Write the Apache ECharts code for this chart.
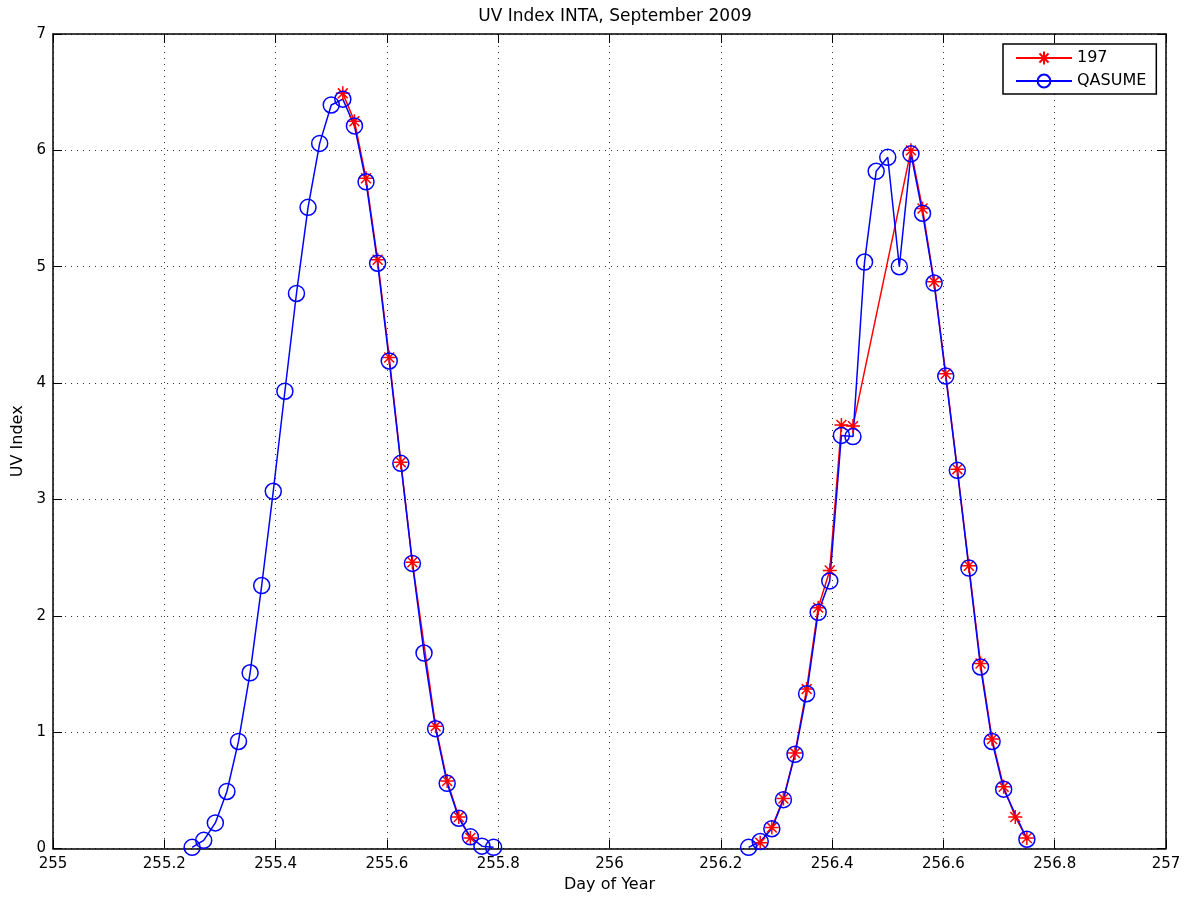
<!DOCTYPE html>
<html>
<head>
<meta charset="utf-8">
<script src="https://cdn.jsdelivr.net/npm/echarts@6/dist/echarts.min.js"></script>
<style>
html,body{margin:0;padding:0;background:#fff;}
#chart{width:1191px;height:902px;}
</style>
</head>
<body>
<div id="chart"></div>
<script>
// ---- Data (Day of Year, UV Index) ----
const xTicks = [255, 255.2, 255.4, 255.6, 255.8, 256, 256.2, 256.4, 256.6, 256.8, 257];
const yTicks = [0, 1, 2, 3, 4, 5, 6, 7];

// Instrument 197 (red, asterisk)
const inst197Day1X = [255.5208, 255.5417, 255.5625, 255.5833, 255.6042, 255.6250, 255.6458, 255.6875, 255.7083, 255.7292, 255.7500];
const inst197Day1Y = [6.49, 6.25, 5.76, 5.06, 4.22, 3.32, 2.46, 1.05, 0.58, 0.27, 0.09];
const inst197Day2X = [256.2708, 256.2917, 256.3125, 256.3333, 256.3542, 256.3750, 256.3958, 256.4167, 256.4375, 256.5417, 256.5625, 256.5833, 256.6042, 256.6250, 256.6458, 256.6667, 256.6875, 256.7083, 256.7292, 256.7500];
const inst197Day2Y = [0.05, 0.18, 0.43, 0.82, 1.37, 2.07, 2.39, 3.64, 3.63, 6.00, 5.50, 4.87, 4.08, 3.26, 2.43, 1.59, 0.94, 0.53, 0.27, 0.09];

// QASUME (blue, circle)
const qasumeDay1X = [255.2500, 255.2708, 255.2917, 255.3125, 255.3333, 255.3542, 255.3750, 255.3958, 255.4167, 255.4375, 255.4583, 255.4792, 255.5000, 255.5208, 255.5417, 255.5625, 255.5833, 255.6042, 255.6250, 255.6458, 255.6667, 255.6875, 255.7083, 255.7292, 255.7500, 255.7708, 255.7917];
const qasumeDay1Y = [0.01, 0.07, 0.22, 0.49, 0.92, 1.51, 2.26, 3.07, 3.93, 4.77, 5.51, 6.06, 6.39, 6.44, 6.21, 5.73, 5.03, 4.19, 3.31, 2.45, 1.68, 1.03, 0.56, 0.26, 0.10, 0.02, 0.01];
const qasumeDay2X = [256.2500, 256.2708, 256.2917, 256.3125, 256.3333, 256.3542, 256.3750, 256.3958, 256.4167, 256.4375, 256.4583, 256.4792, 256.5000, 256.5208, 256.5417, 256.5625, 256.5833, 256.6042, 256.6250, 256.6458, 256.6667, 256.6875, 256.7083, 256.7500];
const qasumeDay2Y = [0.01, 0.06, 0.17, 0.42, 0.81, 1.33, 2.03, 2.30, 3.55, 3.54, 5.04, 5.82, 5.94, 5.00, 5.97, 5.46, 4.86, 4.06, 3.25, 2.41, 1.56, 0.92, 0.51, 0.08];

const seriesNames = ['197', 'QASUME'];

function buildData(x1, y1, x2, y2) {
  const out = [];
  for (let i = 0; i < x1.length; i++) out.push([x1[i], y1[i]]);
  out.push(['-', '-']); // gap between days
  for (let i = 0; i < x2.length; i++) out.push([x2[i], y2[i]]);
  return out;
}

const FONT = 'DejaVu Sans, Liberation Sans, Arial, sans-serif';
const starPath = 'path://M0,-10L0,10M-10,0L10,0M-7.07,-7.07L7.07,7.07M-7.07,7.07L7.07,-7.07';
const fmt = v => String(Math.round(v * 10) / 10);

const chart = echarts.init(document.getElementById('chart'), null, {renderer: 'canvas'});
const axisCommon = {
  type: 'value',
  axisLine: {show: true, onZero: false, lineStyle: {color: '#000', width: 1.5}},
  axisTick: {show: true, inside: true, length: 9, lineStyle: {color: '#000', width: 1}},
};
chart.setOption({
  animation: false,
  backgroundColor: '#fff',
  title: {
    text: 'UV Index INTA, September 2009',
    left: 610, textAlign: 'center', top: 3,
    textStyle: {fontFamily: FONT, fontSize: 17, fontWeight: 'normal', color: '#000'}
  },
  grid: {left: 53, right: 25, top: 34, bottom: 53.5, containLabel: false},
  legend: {
    data: seriesNames,
    orient: 'vertical',
    left: 1003, top: 44,
    padding: [6, 10, 5, 12],
    itemWidth: 56, itemHeight: 16, itemGap: 7,
    backgroundColor: '#fff',
    borderColor: '#000', borderWidth: 1.5,
    textStyle: {fontFamily: FONT, fontSize: 16, color: '#000'},
    selectedMode: false
  },
  xAxis: [
    Object.assign({}, axisCommon, {
      position: 'bottom', min: 255, max: 257, interval: 0.2,
      name: 'Day of Year', nameLocation: 'middle', nameGap: 28,
      nameTextStyle: {fontFamily: FONT, fontSize: 16, color: '#000'},
      axisLabel: {fontFamily: FONT, fontSize: 15, color: '#000', margin: 8, formatter: fmt},
      splitLine: {show: true, lineStyle: {color: '#333', type: [1, 5], width: 1}}
    }),
    Object.assign({}, axisCommon, {
      position: 'top', min: 255, max: 257, interval: 0.2,
      axisLabel: {show: false}, splitLine: {show: false}
    })
  ],
  yAxis: [
    Object.assign({}, axisCommon, {
      position: 'left', min: 0, max: 7, interval: 1,
      name: 'UV Index', nameLocation: 'middle', nameGap: 26, nameRotate: 90,
      nameTextStyle: {fontFamily: FONT, fontSize: 16, color: '#000'},
      axisLabel: {fontFamily: FONT, fontSize: 15, color: '#000', margin: 7},
      splitLine: {show: true, lineStyle: {color: '#333', type: [1, 5], width: 1}}
    }),
    Object.assign({}, axisCommon, {
      position: 'right', min: 0, max: 7, interval: 1,
      axisLabel: {show: false}, splitLine: {show: false}
    })
  ],
  series: [
    {
      name: seriesNames[0], type: 'line', xAxisIndex: 0, yAxisIndex: 0,
      data: buildData(inst197Day1X, inst197Day1Y, inst197Day2X, inst197Day2Y),
      connectNulls: false,
      symbol: starPath, symbolSize: 14, showAllSymbol: true,
      lineStyle: {color: '#ff0000', width: 1.5},
      itemStyle: {color: '#ff0000', borderColor: '#ff0000', borderWidth: 1.5},
      emphasis: {disabled: true}, silent: true
    },
    {
      name: seriesNames[1], type: 'line', xAxisIndex: 0, yAxisIndex: 0,
      data: buildData(qasumeDay1X, qasumeDay1Y, qasumeDay2X, qasumeDay2Y),
      connectNulls: false,
      symbol: 'circle', symbolSize: 16, showAllSymbol: true,
      lineStyle: {color: '#0000ff', width: 1.5},
      itemStyle: {color: 'rgba(0,0,0,0)', borderColor: '#0000ff', borderWidth: 1.5},
      emphasis: {disabled: true}, silent: true
    }
  ]
});
</script>
</body>
</html>
